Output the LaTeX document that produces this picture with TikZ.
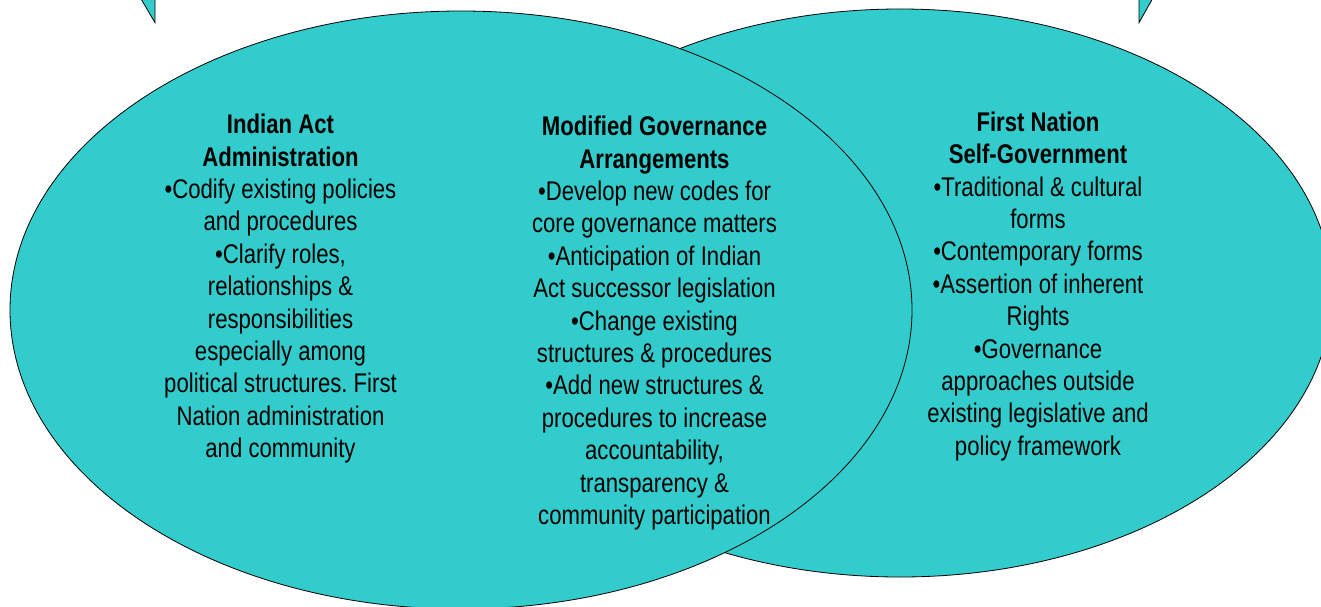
\documentclass[tikz,border=0pt]{standalone}
\usepackage{fontspec}
\setmainfont[FakeStretch=0.82]{Liberation Sans}
\usetikzlibrary{shapes.geometric}
\definecolor{tealfill}{RGB}{51,204,204}
\frenchspacing
\tikzset{
  blob/.style={ellipse, draw=black, line width=0.8pt, fill=tealfill, inner sep=0pt},
  wedge/.style={draw=black, line width=0.8pt, fill=tealfill},
  blocktext/.style={align=center, anchor=north, inner sep=0pt, text=black,
    font=\frenchspacing\fontsize{27}{32.4}\selectfont}
}
\begin{document}
\begin{tikzpicture}[x=1pt,y=-1pt]
\useasboundingbox (0,0) rectangle (1321,607);
\clip (0,0) rectangle (1321,607);
\fill[white] (0,0) rectangle (1321,607);
% callout tips cut off at the top
\draw[wedge] (130,-20) -- (155,22.7) -- (155,-20) -- cycle;
\draw[wedge] (1163,-20) -- (1139,22.7) -- (1139,-20) -- cycle;
% ellipses
\node[blob, minimum width=864pt, minimum height=568pt] (selfgov) at (900,293) {};
\node[blob, minimum width=902pt, minimum height=598pt] (indianact) at (461,310) {};
% texts
\node[blocktext] (lefttext) at (280.5,114) {\textbf{Indian Act}\\\textbf{Administration}\\•Codify existing policies\\and procedures\\•Clarify roles,\\relationships \&\\responsibilities\\especially among\\political structures. First\\Nation administration\\and community};
\node[blocktext] (midtext) at (654.5,116) {\textbf{Modified Governance}\\\textbf{Arrangements}\\•Develop new codes for\\core governance matters\\•Anticipation of Indian\\Act successor legislation\\•Change existing\\structures \& procedures\\•Add new structures \&\\procedures to increase\\accountability,\\transparency \&\\community participation};
\node[blocktext] (righttext) at (1038,111.5) {\textbf{First Nation}\\\textbf{Self-Government}\\•Traditional \& cultural\\forms\\•Contemporary forms\\•Assertion of inherent\\Rights\\•Governance\\approaches outside\\existing legislative and\\policy framework};
\end{tikzpicture}
\end{document}
